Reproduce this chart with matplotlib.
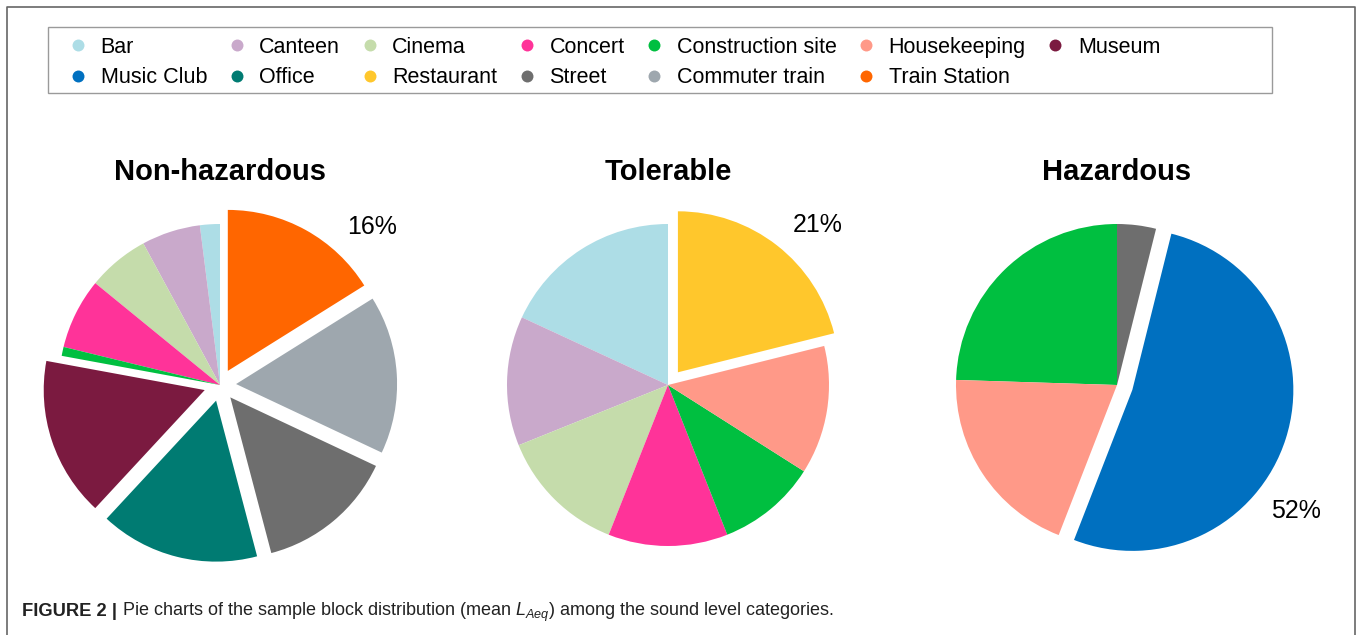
import matplotlib
matplotlib.use("Agg")
import matplotlib.pyplot as plt
from matplotlib.lines import Line2D
from matplotlib.patches import Rectangle
import numpy as np

plt.rcParams["font.family"] = ["Liberation Sans", "DejaVu Sans"]
plt.rcParams["mathtext.fontset"] = "custom"
plt.rcParams["mathtext.rm"] = "Liberation Sans"
plt.rcParams["mathtext.it"] = "Liberation Sans:italic"

# categories in the order the slices run (counter-clockwise from 12 o'clock)
categories = ["Bar", "Canteen", "Cinema", "Concert", "Construction site",
              "Housekeeping", "Museum", "Music Club", "Office", "Restaurant",
              "Street", "Commuter train", "Train Station"]

# share of sample blocks per category (%)
non_hazardous = [2.0, 5.9, 6.2, 7.1, 0.9, 0, 16.0, 0, 16.0, 0, 13.9, 15.9, 16.1]
tolerable = [18.1, 13.0, 12.9, 12.0, 10.0, 12.9, 0, 0, 0, 21.1, 0, 0, 0]
hazardous = [0, 0, 0, 0, 24.5, 19.6, 0, 52.0, 0, 0, 3.9, 0, 0]

titles = ["Non-hazardous", "Tolerable", "Hazardous"]

colors = {
    "Bar": "#ADDDE6", "Canteen": "#C9A9CB", "Cinema": "#C5DCAB",
    "Concert": "#FF3399", "Construction site": "#00BF40",
    "Housekeeping": "#FF9988", "Museum": "#7B1A40", "Music Club": "#0070C0",
    "Office": "#007B72", "Restaurant": "#FFC72C", "Street": "#6E6E6E",
    "Commuter train": "#9EA7AE", "Train Station": "#FF6600",
}

# pulled-out slices per pie
exploded = [
    {"Museum", "Office", "Street", "Commuter train", "Train Station"},
    {"Restaurant"},
    {"Music Club"},
]
label_angle = [46, 47, -35]

W, H = 1358, 635
fig = plt.figure(figsize=(W / 100, H / 100), dpi=100)

R = 161          # pie radius in pixels
cy = 385         # pie centre from the top
centres_x = [220, 668, 1117]
lim = 1.45

for data, title, cx, expl, ang in zip([non_hazardous, tolerable, hazardous],
                                      titles, centres_x, exploded, label_angle):
    ax = fig.add_axes([(cx - lim * R) / W, (H - cy - lim * R) / H,
                       2 * lim * R / W, 2 * lim * R / H])
    names = [c for c, v in zip(categories, data) if v > 0]
    vals = [v for v in data if v > 0]
    ax.pie(vals, colors=[colors[n] for n in names],
           explode=[0.1 if n in expl else 0 for n in names],
           startangle=90, counterclock=True,
           wedgeprops=dict(linewidth=0))
    ax.set_xlim(-lim, lim)
    ax.set_ylim(-lim, lim)
    ax.text(0, 1.32, title, ha="center", va="center",
            fontsize=21, fontweight="bold")
    big = max(vals)
    a = np.deg2rad(ang)
    ax.text(1.36 * np.cos(a), 1.36 * np.sin(a), f"{round(big)}%",
            ha="center", va="center", fontsize=18)

# legend, filled column by column like the reference
order = ["Bar", "Music Club", "Canteen", "Office", "Cinema", "Restaurant",
         "Concert", "Street", "Construction site", "Commuter train",
         "Housekeeping", "Train Station", "Museum"]
handles = [Line2D([], [], marker="o", linestyle="none", markersize=8.6,
                  markerfacecolor=colors[n], markeredgewidth=0) for n in order]
fig.legend(handles, order, ncol=7, frameon=False, fontsize=15.5,
           loc="upper left", bbox_to_anchor=(69.5 / W, 1 - 37 / H),
           borderpad=0, borderaxespad=0, handlelength=0.8,
           handletextpad=0.65, columnspacing=0.97, labelspacing=0.42)
fig.patches.append(Rectangle((48 / W, 1 - 93 / H), (1272 - 48) / W, 66 / H,
                             transform=fig.transFigure, fill=False,
                             edgecolor="#9a9a9a", linewidth=1))

# outer frame (open at the bottom)
fig.lines.append(Line2D([7 / W, 7 / W, 1355 / W, 1355 / W],
                        [0, 1 - 7 / H, 1 - 7 / H, 0],
                        transform=fig.transFigure, color="#666666",
                        linewidth=1.2))

# caption
t1 = fig.text(22 / W, 1 - 612 / H, "FIGURE 2 |", fontsize=13.2,
              fontweight="bold", va="center", color="#222222")
fig.canvas.draw()
bb = t1.get_window_extent()
fig.text((bb.x1 + 5) / W, 1 - 612 / H,
         "Pie charts of the sample block distribution (mean $L_{Aeq}$) "
         "among the sound level categories.",
         fontsize=12.95, va="center", color="#222222")

fig.savefig("out.png", dpi=100)
